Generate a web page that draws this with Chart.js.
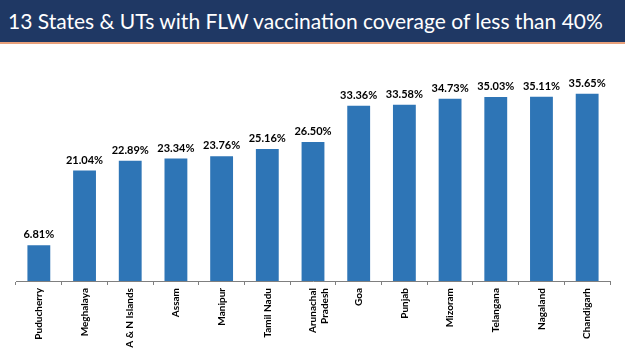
<!DOCTYPE html>
<html>
<head>
<meta charset="utf-8">
<script src="https://cdn.jsdelivr.net/npm/chart.js@4"></script>
<style>
  html, body { margin: 0; padding: 0; background: #fff; }
  #titleBar {
    width: 625px; height: 44px; background: #1f3864;
    border-bottom: 2px solid #e8a07a;
    color: #fff; font-family: Lato, sans-serif; font-size: 21px;
    line-height: 42px; padding-left: 8px; box-sizing: border-box;
    white-space: nowrap; overflow: hidden;
  }
  #wrap { position: relative; width: 625px; height: 307px; }
</style>
</head>
<body>
<div id="titleBar">13 States &amp; UTs with FLW vaccination coverage of less than 40%</div>
<div id="wrap"><canvas id="coverageChart"></canvas></div>
<script>
const states = ['Puducherry', 'Meghalaya', 'A & N Islands', 'Assam', 'Manipur', 'Tamil Nadu',
    ['Arunachal', 'Pradesh'], 'Goa', 'Punjab', 'Mizoram', 'Telangana', 'Nagaland', 'Chandigarh'];
const coverage = [6.81, 21.04, 22.89, 23.34, 23.76, 25.16, 26.50, 33.36, 33.58, 34.73, 35.03, 35.11, 35.65];

// value labels above each bar
const barLabels = {
    id: 'barLabels',
    afterDatasetsDraw(chart) {
        const ctx = chart.ctx;
        const meta = chart.getDatasetMeta(0);
        ctx.save();
        ctx.font = 'bold 11px Lato, sans-serif';
        ctx.fillStyle = '#000';
        ctx.textAlign = 'center';
        ctx.textBaseline = 'bottom';
        meta.data.forEach((bar, i) => {
            ctx.fillText(coverage[i].toFixed(2) + '%', bar.x, bar.y - 5);
        });
        ctx.restore();
    }
};

const ctx = document.getElementById('coverageChart').getContext('2d');

new Chart(ctx, {
    type: 'bar',
    data: {
        labels: states,
        datasets: [{
            data: coverage,
            backgroundColor: '#2e75b6',
            borderWidth: 0,
            barPercentage: 0.5,
            categoryPercentage: 1.0
        }]
    },
    options: {
        responsive: true,
        maintainAspectRatio: false,
        animation: false,
        layout: { padding: { top: 27, left: 16, right: 15, bottom: 0 } },
        plugins: {
            legend: { display: false },
            tooltip: { enabled: false }
        },
        scales: {
            y: { display: false, min: 0, max: 40 },
            x: {
                afterFit: function(scale) { scale.height = 70; },
                border: { display: true, color: '#7f7f7f', width: 1 },
                grid: {
                    offset: true,
                    drawOnChartArea: false,
                    drawTicks: true,
                    tickLength: 4,
                    color: '#7f7f7f'
                },
                ticks: {
                    minRotation: 90,
                    maxRotation: 90,
                    autoSkip: false,
                    padding: 3,
                    color: '#000',
                    font: { family: 'Lato, sans-serif', size: 10, weight: 'bold' }
                }
            }
        }
    },
    plugins: [barLabels]
});
</script>
</body>
</html>
